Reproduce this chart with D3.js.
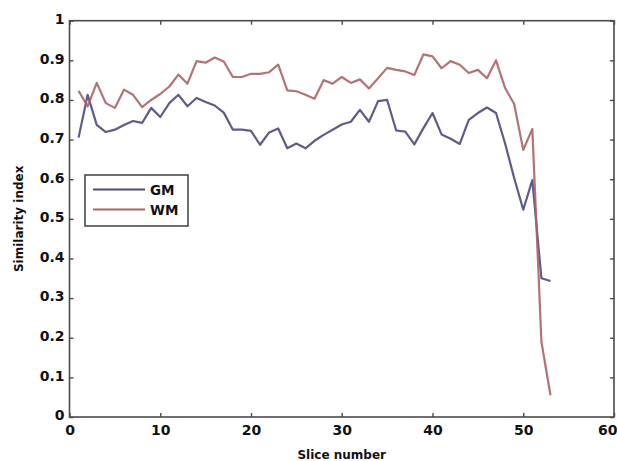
<!DOCTYPE html>
<html>
<head>
<meta charset="utf-8">
<script src="https://cdn.jsdelivr.net/npm/d3@7"></script>
<style>
  html, body { margin: 0; padding: 0; background: #fff; }
  svg { display: block; }
  text { font-family: "DejaVu Sans", sans-serif; font-weight: bold; fill: #111; }
</style>
</head>
<body>
<svg id="chart" width="617" height="461"></svg>
<script>
// Similarity index per slice for grey matter (GM) and white matter (WM)
const slices = d3.range(1, 54);
const gmValues = [
  0.705, 0.813, 0.737, 0.719, 0.725, 0.737, 0.747, 0.742, 0.780, 0.757,
  0.792, 0.813, 0.784, 0.805, 0.795, 0.786, 0.768, 0.725, 0.725, 0.722,
  0.687, 0.718, 0.728, 0.678, 0.690, 0.678, 0.697, 0.712, 0.725, 0.738,
  0.745, 0.775, 0.745, 0.797, 0.800, 0.723, 0.720, 0.688, 0.729, 0.767,
  0.713, 0.702, 0.689, 0.750, 0.767, 0.781, 0.767, 0.690, 0.603, 0.523,
  0.598, 0.350, 0.343
];
const wmValues = [
  0.823, 0.784, 0.843, 0.792, 0.780, 0.826, 0.813, 0.782, 0.800, 0.815,
  0.834, 0.864, 0.841, 0.898, 0.894, 0.907, 0.897, 0.858, 0.858, 0.866,
  0.866, 0.870, 0.889, 0.824, 0.822, 0.813, 0.803, 0.850, 0.841, 0.858,
  0.843, 0.852, 0.829, 0.855, 0.881, 0.876, 0.872, 0.863, 0.915, 0.910,
  0.880, 0.898, 0.889, 0.868, 0.876, 0.855, 0.900, 0.830, 0.790, 0.674,
  0.727, 0.190, 0.055
];
const seriesNames = ["GM", "WM"];
const seriesColors = ["#4b4a7c", "#a86466"];
const xTicks = [0, 10, 20, 30, 40, 50, 60];
const yTicks = [0, 0.1, 0.2, 0.3, 0.4, 0.5, 0.6, 0.7, 0.8, 0.9, 1];

const svg = d3.select("#chart");
const plotL = 69.5, plotR = 614, plotT = 20.7, plotB = 417;

const x = d3.scaleLinear().domain([0, 60]).range([plotL, plotR]);
const y = d3.scaleLinear().domain([0, 1]).range([plotB, plotT]);

const fmt = d => (d === 0 || d === 1) ? String(d) : d3.format(".1f")(d);
const axisColor = "#4a4a4a";

function styleAxis(g) {
  g.select(".domain").remove();
  g.selectAll(".tick line").attr("stroke", axisColor).attr("stroke-width", 1.4);
}
function styleLabels(g) {
  g.selectAll("text")
    .attr("font-size", 14)
    .attr("font-family", "DejaVu Sans")
    .attr("font-weight", "bold")
    .attr("fill", "#111");
}

// bottom axis with labels; the last label is kept inside the page edge
svg.append("g")
  .attr("transform", `translate(0,${plotB})`)
  .call(d3.axisBottom(x).tickValues(xTicks).tickSize(-4).tickPadding(8).tickFormat(d3.format("d")))
  .call(styleAxis)
  .call(styleLabels)
  .call(g => g.selectAll(".tick text").filter(d => d === 60)
    .attr("text-anchor", "end").attr("x", 3));

// left axis with labels
svg.append("g")
  .attr("transform", `translate(${plotL},0)`)
  .call(d3.axisLeft(y).tickValues(yTicks).tickSize(-4).tickPadding(5).tickFormat(fmt))
  .call(styleAxis)
  .call(styleLabels)
  .call(g => g.selectAll("text").attr("dy", "0.2em"));

// top and right axes: ticks only
svg.append("g")
  .attr("transform", `translate(0,${plotT})`)
  .call(d3.axisTop(x).tickValues(xTicks).tickSize(-4).tickFormat(""))
  .call(styleAxis);
svg.append("g")
  .attr("transform", `translate(${plotR},0)`)
  .call(d3.axisRight(y).tickValues(yTicks).tickSize(-4).tickFormat(""))
  .call(styleAxis);

// plot frame
svg.append("rect")
  .attr("x", plotL).attr("y", plotT)
  .attr("width", plotR - plotL).attr("height", plotB - plotT)
  .attr("fill", "none").attr("stroke", axisColor).attr("stroke-width", 1.6);

// data lines
const line = d3.line().x((d, i) => x(slices[i])).y(d => y(d));
[gmValues, wmValues].forEach((vals, k) => {
  svg.append("path")
    .datum(vals)
    .attr("d", line)
    .attr("fill", "none")
    .attr("stroke", seriesColors[k])
    .attr("stroke-width", 2.2)
    .attr("stroke-linejoin", "round")
    .attr("opacity", 0.9);
});

// legend
const lg = svg.append("g");
lg.append("rect")
  .attr("x", 85).attr("y", 175).attr("width", 103).attr("height", 51)
  .attr("fill", "#fff").attr("stroke", axisColor).attr("stroke-width", 1.6);
seriesNames.forEach((name, k) => {
  const ly = 189.5 + k * 20;
  lg.append("line")
    .attr("x1", 93).attr("x2", 145).attr("y1", ly).attr("y2", ly)
    .attr("stroke", seriesColors[k]).attr("stroke-width", 2.2);
  lg.append("text")
    .attr("x", 150).attr("y", ly + 5)
    .attr("font-size", 13.5)
    .text(name);
});

// axis titles
svg.append("text")
  .attr("x", (plotL + plotR) / 2).attr("y", 459)
  .attr("text-anchor", "middle")
  .attr("font-size", 12)
  .text("Slice number");
svg.append("text")
  .attr("transform", `translate(23,${(plotT + plotB) / 2}) rotate(-90)`)
  .attr("text-anchor", "middle")
  .attr("font-size", 12)
  .text("Similarity index");
</script>
</body>
</html>
